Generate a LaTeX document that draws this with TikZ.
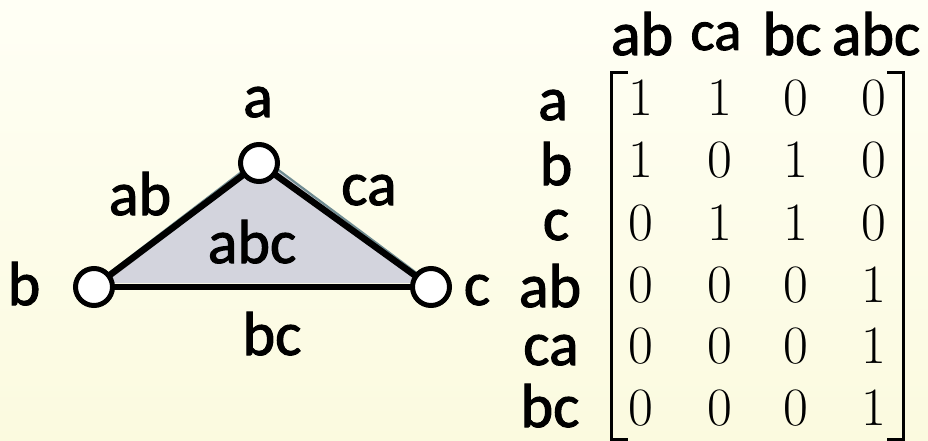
\documentclass[tikz,border=0pt]{standalone}
\usepackage{fontspec}
\newfontfamily\calib{Carlito}[FakeBold=1.7]
\newfontfamily\lmr{Latin Modern Roman}
\begin{document}
\begin{tikzpicture}[x=1pt,y=-1pt,
  lbl/.style={font=\calib\fontsize{62}{62}\selectfont, inner sep=0pt, anchor=base},
  lblsmall/.style={font=\calib\fontsize{57}{57}\selectfont, inner sep=0pt, anchor=base},
  dig/.style={font=\lmr\fontsize{54}{54}\selectfont, inner sep=0pt, anchor=base},
  vtx/.style={circle, draw=black, fill=white, line width=5pt, minimum size=37pt, inner sep=0pt},
  conn/.style={line width=6.5pt, draw=black, line cap=round},
  brk/.style={line width=3pt, draw=black}]
\definecolor{bgtop}{RGB}{255,255,245}
\definecolor{bgbot}{RGB}{251,250,223}
\definecolor{trifill}{RGB}{211,212,221}
\definecolor{shadowc}{RGB}{112,140,146}
\shade[top color=bgtop, bottom color=bgbot] (0,0) rectangle (928,441);
\useasboundingbox (0,0) rectangle (928,441);
% triangle fill
\coordinate (fa) at (261,157);
\coordinate (fb) at (96,283);
\coordinate (fc) at (430,283);
\fill[trifill] (fa) -- (fb) -- (fc) -- cycle;
\draw[shadowc, line width=2.2pt, line join=round] (fb) -- (fa) -- (fc);
% vertex positions
\coordinate (pa) at (259,163);
\coordinate (pb) at (94,287);
\coordinate (pc) at (431,287);
\draw[conn] (pa) -- (pb);
\draw[conn] (pa) -- (pc);
\draw[conn] (pb) -- (pc);
\node[vtx] (a) at (pa) {};
\node[vtx] (b) at (pb) {};
\node[vtx] (c) at (pc) {};
% triangle labels
\node[lbl] (la) at (258,117) {a};
\node[lbl] (lb) at (24,305) {b};
\node[lbl] (lc) at (477,305) {c};
\node[lbl] (lab) at (140,215) {ab};
\node[lbl] (lca) at (369,205) {ca};
\node[lbl] (labc) at (252,263) {abc};
\node[lbl] (lbc) at (272,355) {bc};
% matrix header
\node[lbl] (hab) at (642,55) {ab};
\node[lblsmall] (hca) at (716,50) {ca};
\node[lbl] (hbc) at (792,55) {bc};
\node[lbl] (habc) at (876,55) {abc};
% row labels
\node[lbl] (ra) at (553,120) {a};
\node[lbl] (rb) at (556,185) {b};
\node[lbl] (rc) at (556,240) {c};
\node[lbl] (rab) at (550,307) {ab};
\node[lbl] (rca) at (551,365) {ca};
\node[lbl] (rbc) at (550,427) {bc};
% matrix entries
\foreach \r/\y/\p/\q/\s/\t in {1/115/1/1/0/0, 2/177/1/0/1/0, 3/240/0/1/1/0, 4/302/0/0/0/1, 5/363/0/0/0/1, 6/425/0/0/0/1} {
  \node[dig] (m\r-1) at (641,\y) {\p};
  \node[dig] (m\r-2) at (720,\y) {\q};
  \node[dig] (m\r-3) at (796,\y) {\s};
  \node[dig] (m\r-4) at (874,\y) {\t};
}
% brackets
\draw[brk] (628,72.5) -- (611.5,72.5) -- (611.5,439) -- (628,439);
\draw[brk] (887,72.5) -- (903,72.5) -- (903,439) -- (887,439);
\end{tikzpicture}
\end{document}
